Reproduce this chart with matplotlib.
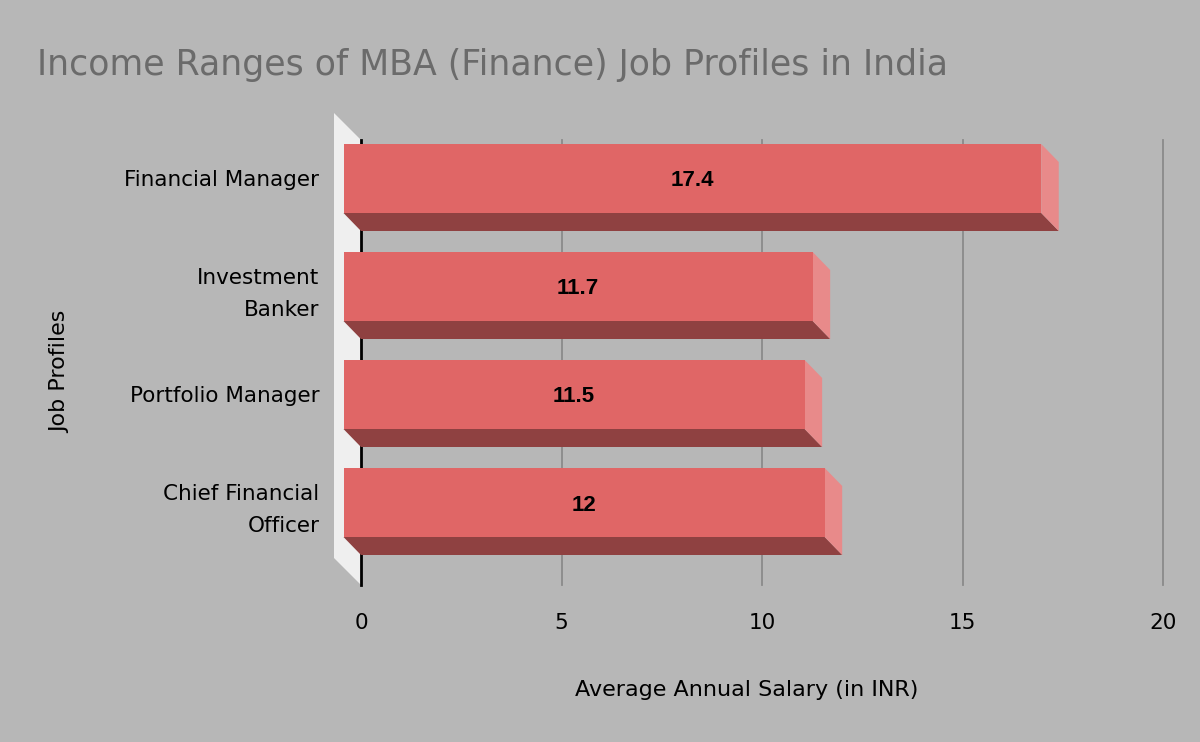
import matplotlib
matplotlib.use("Agg")
import matplotlib.pyplot as plt
from matplotlib.patches import Polygon

categories = ["Financial Manager", "Investment\nBanker", "Portfolio Manager", "Chief Financial\nOfficer"]
values = [17.4, 11.7, 11.5, 12]
xticks = [0, 5, 10, 15, 20]

BG = "#b7b7b7"
FRONT = "#e06666"
BOTTOM = "#8f4141"
SIDE = "#e88a8a"
WALL = "#efefef"

W, H = 1200, 742
fig = plt.figure(figsize=(W / 100, H / 100), dpi=100, facecolor=BG)
ax_l, ax_r, ax_t, ax_b = 361, 1163, 140, 585
ax = fig.add_axes([ax_l / W, 1 - ax_b / H, (ax_r - ax_l) / W, (ax_b - ax_t) / H])
ax.set_facecolor(BG)

px_per_x = (ax_r - ax_l) / 20.0
px_per_y = 108.0
y0 = 196.5
ylim_top = (ax_t - y0) / px_per_y
ylim_bot = (ax_b - y0) / px_per_y
ax.set_xlim(0, 20)
ax.set_ylim(ylim_bot, ylim_top)

dx = 17.5 / px_per_x
s = 18.0 / px_per_y
h = 69.0 / px_per_y
wdx = 27.0 / px_per_x
wdy = 27.0 / px_per_y

# wall
wall = Polygon([(-wdx, ylim_top - wdy), (0, ylim_top), (0, ylim_bot), (-wdx, ylim_bot - wdy)],
               closed=True, facecolor=WALL, edgecolor="none", clip_on=False, zorder=1)
ax.add_patch(wall)

# grid
for xv in xticks[1:]:
    ax.plot([xv, xv], [ylim_top, ylim_bot], color="#8a8a8a", lw=1.3, zorder=1, clip_on=False)
ax.plot([0, 0], [ylim_top, ylim_bot], color="black", lw=2, zorder=2, clip_on=False)

for i, v in enumerate(values):
    c = i
    ft, fb = c - s - h / 2, c - s + h / 2
    bt, bb = c - h / 2, c + h / 2
    front = Polygon([(-dx, ft), (v - dx, ft), (v - dx, fb), (-dx, fb)], closed=True,
                    facecolor=FRONT, edgecolor="none", clip_on=False, zorder=4)
    bottom = Polygon([(-dx, fb), (v - dx, fb), (v, bb), (0, bb)], closed=True,
                     facecolor=BOTTOM, edgecolor="none", clip_on=False, zorder=3)
    side = Polygon([(v - dx, ft), (v, bt), (v, bb), (v - dx, fb)], closed=True,
                   facecolor=SIDE, edgecolor="none", clip_on=False, zorder=3)
    for p in (bottom, side, front):
        ax.add_patch(p)
    lbl = f"{v:g}"
    ax.text((v - 2 * dx) / 2, c - s + 2.5 / px_per_y, lbl, ha="center", va="center",
            fontsize=16, fontweight="bold", color="black", family="Liberation Sans", zorder=5)

for sp in ax.spines.values():
    sp.set_visible(False)

ax.set_xticks(xticks)
ax.set_xticklabels([str(t) for t in xticks], fontsize=15.5, family="DejaVu Sans")
ax.tick_params(axis="x", length=0, pad=20)
ax.set_yticks([i - s for i in range(len(categories))])
ax.set_yticklabels(categories, fontsize=15.5, family="DejaVu Sans", linespacing=1.7)
ax.tick_params(axis="y", length=0, pad=30)

fig.text(747 / W, 1 - 690 / H, "Average Annual Salary (in INR)", ha="center", va="center",
         fontsize=16, family="DejaVu Sans")
fig.text(60 / W, 1 - 372 / H, "Job Profiles", ha="center", va="center", rotation=90,
         fontsize=16, family="DejaVu Sans")
fig.text(37 / W, 1 - 65 / H, "Income Ranges of MBA (Finance) Job Profiles in India",
         ha="left", va="center", fontsize=25, color="#6b6b6b", family="DejaVu Sans")

fig.savefig("out.png", dpi=100, facecolor=BG)
